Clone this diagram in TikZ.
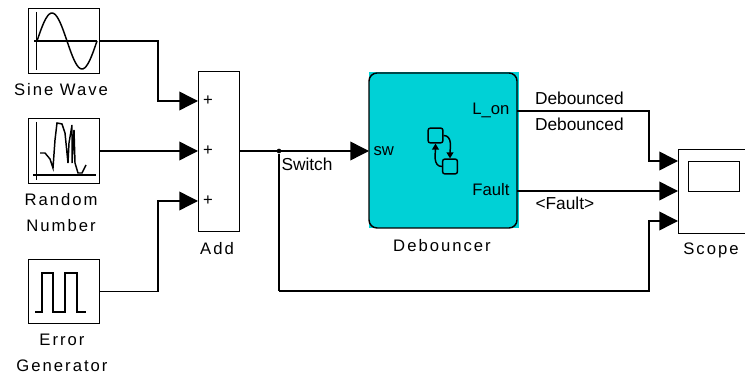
\documentclass[tikz,border=0pt]{standalone}
\usepackage{fontspec}
\setmainfont{Liberation Sans}
\newfontfamily\blockfont[LetterSpace=12]{Liberation Sans}
\usetikzlibrary{arrows.meta}
\definecolor{chartcyan}{RGB}{0,209,214}

\tikzset{every picture/.style={line width=0.75pt}}
\tikzset{
  block/.style={draw,line width=1.1pt,rectangle,inner sep=0pt,anchor=north west},
  wire/.style={line width=1.1pt,-{Triangle[length=14pt,width=14pt]}},
  plainwire/.style={line width=1.1pt},
  trace/.style={line width=1.1pt},
  blocklabel/.style={inner sep=0.75pt,font=\blockfont\fontsize{12.5}{14}\selectfont},
  signallabel/.style={inner sep=0.75pt,anchor=west,font=\fontsize{13}{15}\selectfont},
  portlabel/.style={inner sep=0.75pt,font=\fontsize{12.5}{14}\selectfont},
  statebox/.style={draw,line width=1.1pt,rectangle,rounded corners=1.5pt,inner sep=0pt,minimum size=11pt},
  statewire/.style={line width=1.1pt,-{Triangle[length=4.5pt,width=5pt]}}
}

\begin{document}
\begin{tikzpicture}[x=0.75pt,y=0.75pt,yscale=-1,xscale=1]
\useasboundingbox (0,0) rectangle (745,377);

%Shape: Rectangle [id:sine]
\node (sine) [block,minimum width=53.25pt,minimum height=48.75pt] at (28,8) {};
%Shape: Rectangle [id:random]
\node (random) [block,minimum width=53.25pt,minimum height=48.75pt] at (28,118) {};
%Shape: Rectangle [id:error]
\node (error) [block,minimum width=53.25pt,minimum height=48pt] at (28,259) {};
%Shape: Rectangle [id:add]
\node (add) [block,minimum width=30.75pt,minimum height=120pt] at (198,71) {};
%Shape: Rectangle [id:debouncer]
\node (debouncer) [rectangle,fill=chartcyan,inner sep=0pt,anchor=north west,minimum width=112.5pt,minimum height=117pt] at (368,72) {};
\draw [line width=1.1pt,rounded corners=6pt] (369,73) rectangle (517,228);
%Shape: Rectangle [id:scope]
\node (scope) [block,minimum width=54pt,minimum height=63pt] at (678,149) {};
\node (screen) [block,minimum width=38.25pt,minimum height=22.5pt] at (688,161) {};

%Straight Lines: sine icon
\draw [trace] (36.5,12) -- (36.5,70) (34,41) -- (97,41);
\draw [trace] plot [domain=0:360,samples=40,smooth] ({37+\x/6},{41-28*sin(\x)});
%Straight Lines: random icon
\draw [trace] (36.5,122) -- (36.5,180) (33,175) -- (96,175);
\draw [trace] (40,153) -- (45,153) -- (50,159) -- (53,168) -- (55,140) -- (57,123) -- (62,124) -- (65,133) -- (68,163) -- (69,143) -- (72,125) -- (72,163) -- (74,130) -- (75,163) -- (78,173) -- (82,173) -- (86,165);
%Straight Lines: pulse icon
\draw [trace] (35,312) -- (42,312) -- (42,273) -- (53,273) -- (53,312) -- (65,312) -- (65,273) -- (77,273) -- (77,312) -- (86,312);

%Coordinates of the ports
\coordinate (addinA) at (198,101);
\coordinate (addinB) at (198,151);
\coordinate (addinC) at (198,201);
\coordinate (swin) at (369,151);
\coordinate (addout) at (239,151);
\coordinate (lonout) at (517,111);
\coordinate (faultout) at (517,191);
\coordinate (scopeinA) at (678,161);
\coordinate (scopeinB) at (678,191);
\coordinate (scopeinC) at (678,221);
\coordinate (busA) at (158,101);
\coordinate (busC) at (158,201);
\coordinate (busD) at (649,161);
\coordinate (busE) at (649,221);
\coordinate (feedcorner) at (279,291);
\node (branch) [circle,fill=black,inner sep=0pt,minimum size=3.5pt] at (279,151) {};

%Connectors
\draw [wire] (sine.east |- 0,41) -| (busA) -- (addinA);
\draw [wire] (random.east |- addinB) -- (addinB);
\draw [wire] (error.east) -| (busC) -- (addinC);
\draw [wire] (addout) -- (swin);
\draw [plainwire] (branch) -- (feedcorner);
\draw [wire] (feedcorner) -| (busE) -- (scopeinC);
\draw [wire] (lonout) -| (busD) -- (scopeinA);
\draw [wire] (faultout) -- (scopeinB);

%Mini chart in the block
\node (stateA) [statebox] at (435.5,135.5) {};
\node (stateB) [statebox] at (450,166.5) {};
\draw [statewire] (stateA.east) to [out=0,in=270] (stateB.north);
\draw [statewire] (stateB.west) to [out=180,in=90] (stateA.south);

% Text Node
\node (sinelabel) [blocklabel] at (61,90) {Sine Wave};
% Text Node
\node (randomlabel) [blocklabel] at (61,200) {Random};
% Text Node
\node (numberlabel) [blocklabel] at (61,226) {Number};
% Text Node
\node (errorlabel) [blocklabel] at (62,340) {Error};
% Text Node
\node (generatorlabel) [blocklabel] at (62,366) {Generator};
% Text Node
\node (addlabel) [blocklabel] at (217,249) {Add};
% Text Node
\node (debouncerlabel) [blocklabel] at (442,246) {Debouncer};
% Text Node
\node (scopelabel) [blocklabel] at (711,250) {Scope};
% Text Node
\node (plusA) [portlabel] at (208,101) {+};
% Text Node
\node (plusB) [portlabel] at (208,151) {+};
% Text Node
\node (plusC) [portlabel] at (208,201) {+};
% Text Node
\node (swlabel) [portlabel,anchor=west] at (372,151) {sw};
% Text Node
\node (lonlabel) [portlabel,anchor=east] at (511,110) {L\_on};
% Text Node
\node (faultlabel) [portlabel,anchor=east] at (511,190) {Fault};
% Text Node
\node (switchlabel) [signallabel] at (280,164) {Switch};
% Text Node
\node (debouncedA) [signallabel] at (533.5,98) {Debounced};
% Text Node
\node (debouncedB) [signallabel] at (533.5,124) {Debounced};
% Text Node
\node (faultsignal) [signallabel] at (534,203) {<Fault>};

\end{tikzpicture}
\end{document}
